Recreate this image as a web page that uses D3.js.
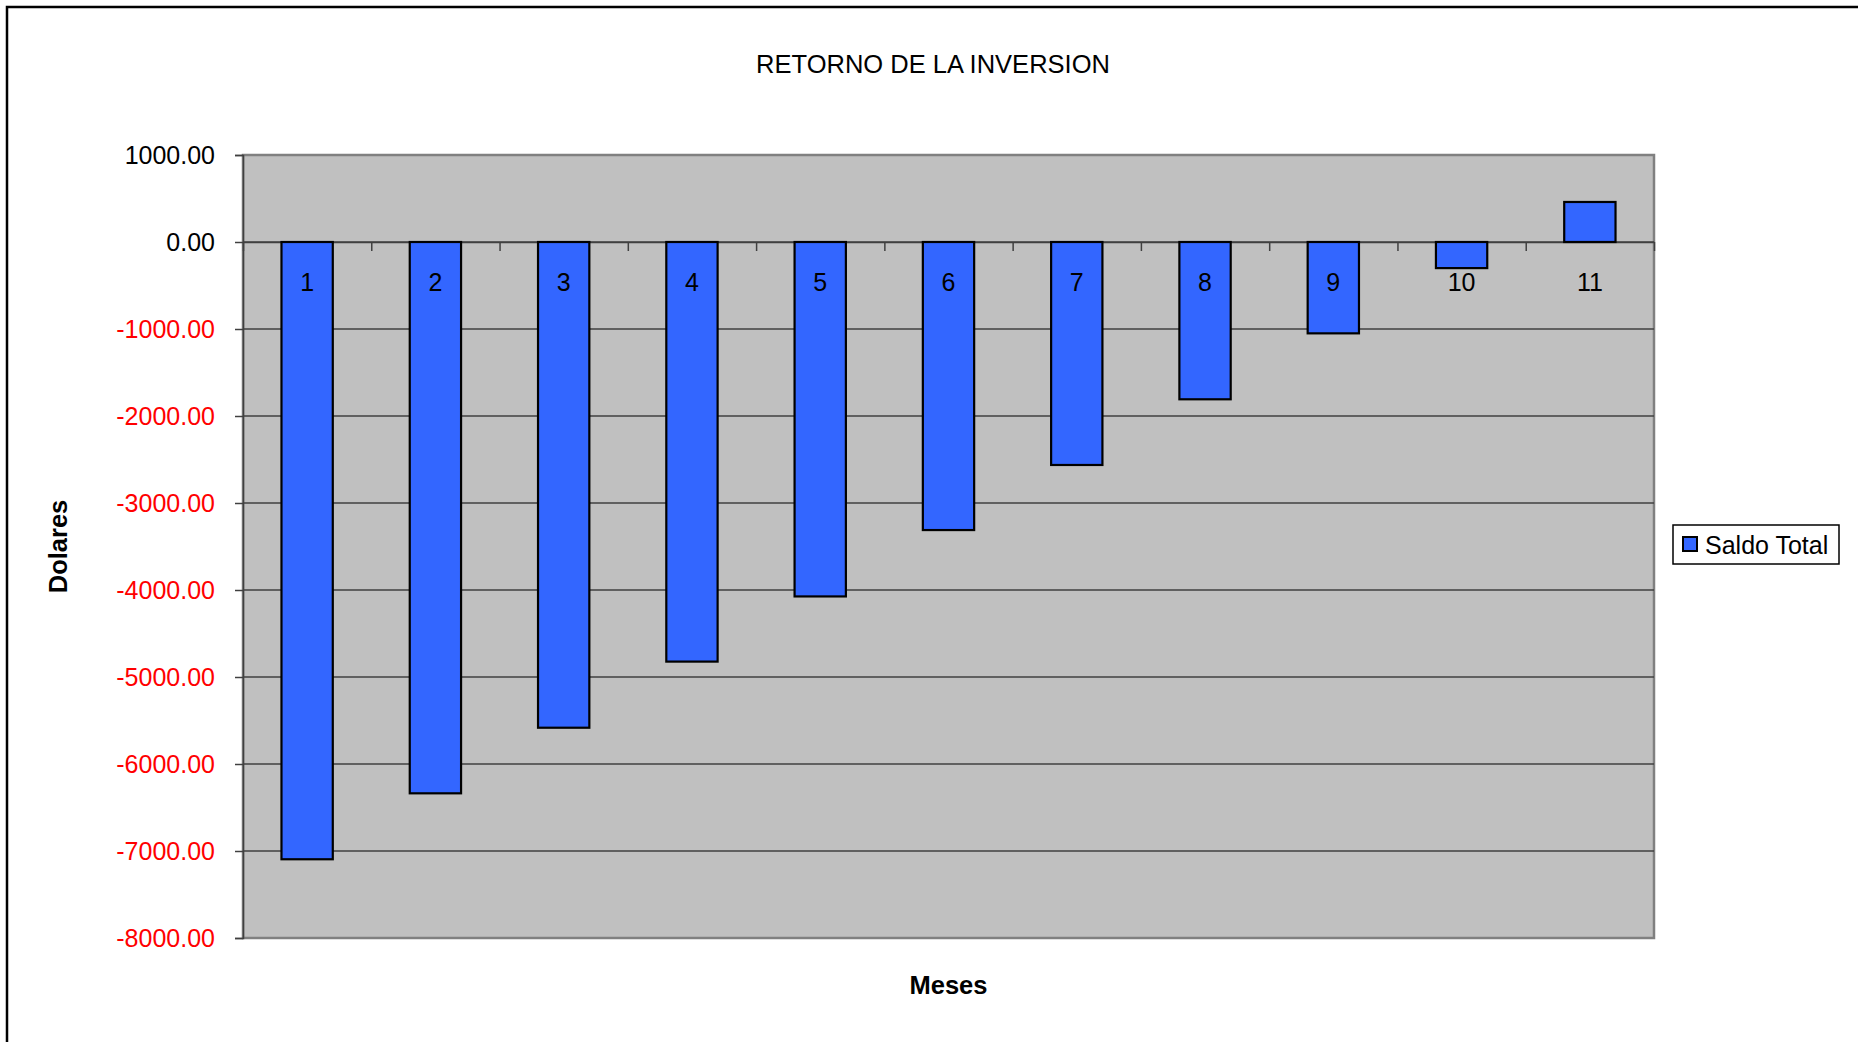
<!DOCTYPE html>
<html>
<head>
<meta charset="utf-8">
<script src="https://cdn.jsdelivr.net/npm/d3@7"></script>
<style>
body{
	margin: 0;
	background: #fff;
	font-family: "Liberation Sans", Arial, sans-serif;
}
.grid line{
	stroke: #404040;
	stroke-width: 1.5px;
}
.yaxis path, .yaxis line, .xaxis path, .xaxis line{
	stroke: #404040;
	stroke-width: 1.5px;
}
.yaxis text{
	font-size: 25px;
	font-family: "Liberation Sans", Arial, sans-serif;
}
</style>
</head>
<body>
<div class="viz"></div>
<script>
// datos
var meses = ["1","2","3","4","5","6","7","8","9","10","11"];
var saldoTotal = [-7095, -6337, -5583, -4823, -4074, -3311, -2563, -1808, -1050, -300, 460];
var yTicks = [1000, 0, -1000, -2000, -3000, -4000, -5000, -6000, -7000, -8000];
var serieNombre = "Saldo Total";

var W = 1858, H = 1042;
var svg = d3.select(".viz").append("svg").attr("width", W).attr("height", H);

// marco exterior
svg.append("rect").attr("x", 7).attr("y", 7).attr("width", W + 20).attr("height", H + 20)
	.style("fill", "#fff").style("stroke", "#000").style("stroke-width", 2.5);

var pLeft = 243, pRight = 1654, pTop = 155, pBottom = 938;

var x = d3.scaleBand().domain(meses).range([pLeft, pRight]).paddingInner(0.6).paddingOuter(0.3);
var xb = d3.scaleLinear().domain([0, meses.length]).range([pLeft, pRight]);
var y = d3.scaleLinear().domain([d3.min(yTicks), d3.max(yTicks)]).range([pBottom, pTop]);

// area de trazado
svg.append("rect").attr("x", pLeft).attr("y", pTop).attr("width", pRight - pLeft).attr("height", pBottom - pTop)
	.style("fill", "#c0c0c0").style("stroke", "#808080").style("stroke-width", 2.5);

// lineas de division
svg.append("g").attr("class", "grid").selectAll("line").data(yTicks.filter(function(d){ return d != d3.max(yTicks) && d != d3.min(yTicks); }))
	.enter().append("line")
	.attr("x1", pLeft).attr("x2", pRight)
	.attr("y1", function(d){ return y(d); }).attr("y2", function(d){ return y(d); });

// eje y
var yaxis = d3.axisLeft(y).tickValues(yTicks).tickFormat(function(d){ return d.toFixed(2); }).tickSize(8).tickPadding(20);
var gy = svg.append("g").attr("class", "yaxis").attr("transform", "translate(" + pLeft + ",0)").call(yaxis);
gy.selectAll("text").style("fill", function(d){ return d < 0 ? "#ff0000" : "#000"; });

// eje x en cero, marcas entre categorias
var xaxis = d3.axisBottom(xb).tickValues(d3.range(0, meses.length + 1)).tickFormat("").tickSize(9).tickSizeOuter(0);
svg.append("g").attr("class", "xaxis").attr("transform", "translate(0," + y(0) + ")").call(xaxis);

// barras
svg.append("g").selectAll("rect").data(saldoTotal).enter().append("rect")
	.attr("x", function(d, i){ return x(meses[i]); })
	.attr("width", x.bandwidth())
	.attr("y", function(d){ return y(Math.max(0, d)); })
	.attr("height", function(d){ return Math.abs(y(d) - y(0)); })
	.style("fill", "#3366ff").style("stroke", "#000").style("stroke-width", 2.2);

// etiquetas de categoria
svg.append("g").selectAll("text").data(meses).enter().append("text")
	.attr("x", function(d){ return x(d) + x.bandwidth() / 2; })
	.attr("y", y(0) + 49)
	.attr("text-anchor", "middle")
	.style("font-size", "25px")
	.text(function(d){ return d; });

// titulo
svg.append("text").attr("x", 933).attr("y", 73).attr("text-anchor", "middle")
	.style("font-size", "25.5px").text("RETORNO DE LA INVERSION");

svg.append("text").attr("x", (pLeft + pRight) / 2).attr("y", 994).attr("text-anchor", "middle")
	.style("font-size", "25.5px").style("font-weight", "bold").text("Meses");

svg.append("text").attr("transform", "translate(67," + ((pTop + pBottom) / 2) + ") rotate(-90)")
	.attr("text-anchor", "middle")
	.style("font-size", "25.5px").style("font-weight", "bold").text("Dolares");

// leyenda
var lg = svg.append("g").attr("transform", "translate(1673,525)");
lg.append("rect").attr("width", 166).attr("height", 39).style("fill", "#fff").style("stroke", "#000").style("stroke-width", 1.5);
lg.append("rect").attr("x", 10).attr("y", 12).attr("width", 14).attr("height", 14)
	.style("fill", "#3366ff").style("stroke", "#000").style("stroke-width", 2);
lg.append("text").attr("x", 32).attr("y", 29).style("font-size", "25px").text(serieNombre);
</script>
</body>
</html>
